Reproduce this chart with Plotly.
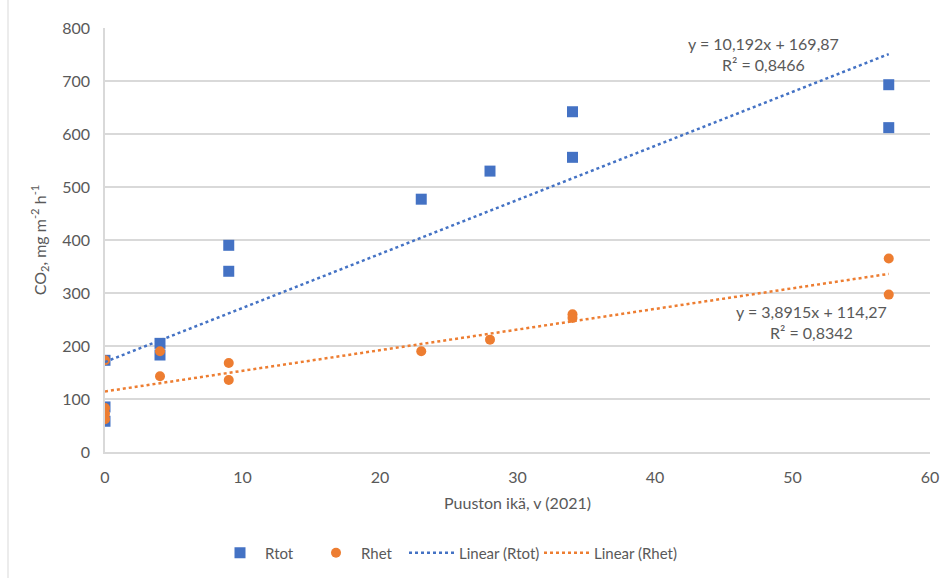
import plotly.graph_objects as go

# Data
rtot_x = [0, 0, 0, 4, 4, 9, 9, 23, 28, 34, 34, 57, 57]
rtot_y = [173, 85, 58, 205, 183, 390, 341, 477, 530, 642, 556, 693, 612]
rhet_x = [0, 0, 0, 0, 4, 4, 9, 9, 23, 28, 34, 34, 57, 57]
rhet_y = [173, 83, 72, 62, 190, 143, 168, 136, 190, 212, 260, 253, 365, 297]

rtot_slope, rtot_icpt, rtot_r2 = 10.192, 169.87, "0,8466"
rhet_slope, rhet_icpt, rhet_r2 = 3.8915, 114.27, "0,8342"
rtot_eq = "y = 10,192x + 169,87"
rhet_eq = "y = 3,8915x + 114,27"
trend_x = [0, 57]

BLUE = "#4472C4"
ORANGE = "#ED7D31"
TXT = "#595959"
FONT = "Lato"

# plot area geometry (px)
L, R, T, B = 105, 20, 28, 126
PW = 950 - L - R
PH = 578 - T - B


def px_x(p):
    return (p - L) / PW


def px_y(p):
    return (578 - B - p) / PH


fig = go.Figure()
fig.add_trace(go.Scatter(x=rtot_x, y=rtot_y, mode="markers", name="Rtot", legend="legend",
                         marker=dict(symbol="square", size=11, color=BLUE)))
fig.add_trace(go.Scatter(x=rhet_x, y=rhet_y, mode="markers", name="Rhet", legend="legend2",
                         marker=dict(symbol="circle", size=10, color=ORANGE)))
fig.add_trace(go.Scatter(x=trend_x, y=[rtot_slope * v + rtot_icpt for v in trend_x],
                         mode="lines", name="Linear (Rtot)", legend="legend3",
                         line=dict(color=BLUE, width=2.5, dash="dot")))
fig.add_trace(go.Scatter(x=trend_x, y=[rhet_slope * v + rhet_icpt for v in trend_x],
                         mode="lines", name="Linear (Rhet)", legend="legend4",
                         line=dict(color=ORANGE, width=2.5, dash="dot")))

fig.add_annotation(x=px_x(763), y=px_y(54), xref="paper", yref="paper", xanchor="center", yanchor="middle",
                   text=rtot_eq + "<br>R² = " + rtot_r2,
                   showarrow=False, align="center", font=dict(size=16, color=TXT, family=FONT))
fig.add_annotation(x=px_x(811), y=px_y(322), xref="paper", yref="paper", xanchor="center", yanchor="middle",
                   text=rhet_eq + "<br>R² = " + rhet_r2,
                   showarrow=False, align="center", font=dict(size=16, color=TXT, family=FONT))

leg_common = dict(orientation="h", yanchor="middle", xanchor="left",
                  font=dict(size=15, color=TXT, family=FONT), bgcolor="rgba(0,0,0,0)")

fig.update_layout(
    width=950, height=578,
    margin=dict(l=L, r=R, t=T, b=B, autoexpand=False),
    plot_bgcolor="white", paper_bgcolor="white",
    font=dict(family=FONT, size=15, color=TXT),
    xaxis=dict(range=[0, 60], dtick=10, showgrid=False, zeroline=False,
               showline=True, linecolor="#d9d9d9", linewidth=1.5,
               ticks="", tickfont=dict(size=16, color=TXT), ticklabelstandoff=10,
               title=dict(text="Puuston ikä, v (2021)", font=dict(size=16, color=TXT), standoff=13)),
    yaxis=dict(range=[0, 800], dtick=100, showgrid=True, gridcolor="#d9d9d9", gridwidth=1.5,
               zeroline=False, showline=True, linecolor="#d9d9d9", linewidth=1.5, ticks="",
               tickfont=dict(size=16, color=TXT), ticklabelstandoff=10,
               title=dict(text="CO<sub>2</sub>, mg m<sup>-2</sup> h<sup>-1</sup>",
                          font=dict(size=16, color=TXT), standoff=12)),
    legend=dict(x=px_x(215), y=px_y(553), itemwidth=40, **leg_common),
    legend2=dict(x=px_x(311), y=px_y(553), itemwidth=40, **leg_common),
    legend3=dict(x=px_x(404), y=px_y(553), itemwidth=45, **leg_common),
    legend4=dict(x=px_x(539), y=px_y(553), itemwidth=45, **leg_common),
    showlegend=True,
)

fig.add_shape(type="line", xref="paper", yref="paper",
              x0=px_x(8), x1=px_x(8), y0=px_y(578), y1=px_y(0),
              line=dict(color="#d9d9d9", width=1))

fig.write_html("out.html")
